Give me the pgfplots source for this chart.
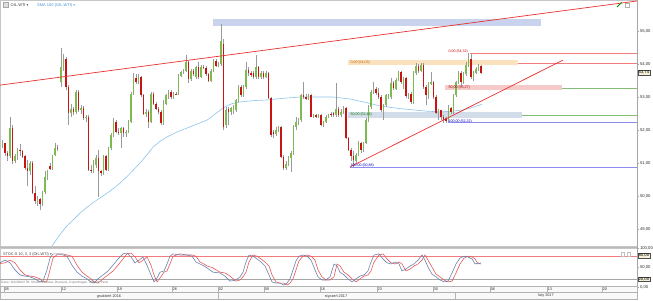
\documentclass[border=0pt]{standalone}
\usepackage{pgfplots}
\pgfplotsset{compat=1.18}
\usepackage{pgfplotstable}
\usepackage{fontspec}
\setmainfont{Liberation Sans}
\newfontfamily\dejavu{DejaVu Sans}
\definecolor{cgreen}{HTML}{7DBB50}
\definecolor{cred}{HTML}{C81414}
\definecolor{wick}{HTML}{9A9A9A}
\definecolor{trend}{HTML}{E8302C}
\definecolor{fibred}{HTML}{F07C7C}
\definecolor{fibgreen}{HTML}{82BE76}
\definecolor{fibblue}{HTML}{8C8CF0}
\definecolor{sma}{HTML}{8EC4EC}
\definecolor{smatext}{HTML}{4A90D9}
\definecolor{bandblue}{HTML}{C9D3EE}
\definecolor{bandorange}{HTML}{FBE2BF}
\definecolor{bandsteel}{HTML}{D3DDEA}
\definecolor{bandred}{HTML}{F7CACA}
\definecolor{stk}{HTML}{6A84B0}
\definecolor{std}{HTML}{E65A5A}
\definecolor{boxfill}{HTML}{F6F1D8}

\pgfplotstableread{
x o h l c
2.5 51.50 51.70 51.45 51.62
5 51.60 51.62 51.20 51.30
7.5 51.30 51.35 51.05 51.20
10 51.20 52.38 51.15 52.05
12.5 52.05 52.15 50.98 51.05
15 51.05 51.28 51.00 51.20
17.5 51.20 51.45 51.10 51.40
20 51.40 51.58 51.22 51.35
22.5 51.35 51.40 51.15 51.18
25 51.20 51.25 50.80 50.85
27.5 50.85 51.10 50.30 50.75
30 50.75 51.05 50.65 51.00
32.5 51.00 51.05 50.05 50.10
35 50.10 50.30 49.75 49.85
37.5 49.85 50.00 49.70 49.90
40 49.90 49.95 49.58 49.75
42.5 49.75 50.15 49.70 50.12
45 50.12 50.75 50.05 50.58
47.5 50.58 50.80 50.50 50.75
50 50.92 51.00 50.78 50.82
52.5 50.82 51.25 50.80 51.24
55 51.24 51.62 51.20 51.45
57.5 51.45 51.55 51.35 51.42
61 53.45 54.48 53.30 53.90
63.5 53.90 54.30 53.80 54.15
66 54.15 54.20 53.20 53.30
68.5 53.30 53.35 52.15 52.52
71 52.52 52.80 52.40 52.65
73.5 52.65 52.70 52.45 52.55
76 52.55 53.20 52.50 53.15
78.5 53.15 53.20 52.55 52.60
81 52.60 52.75 52.50 52.68
83.5 52.68 52.72 52.30 52.36
86 52.36 52.45 52.25 52.40
88.5 52.40 52.45 50.75 50.80
91 50.80 50.95 50.70 50.75
93.5 50.75 51.10 50.70 50.95
96 50.95 51.25 50.85 51.15
98.5 51.15 51.40 49.97 50.75
101 50.75 50.80 50.60 50.70
103.5 50.70 51.25 50.65 51.20
106 51.20 51.25 50.75 50.80
108.5 50.80 51.50 50.75 51.45
111 51.45 51.90 51.40 51.85
113.5 51.85 52.35 51.80 52.25
116 52.25 52.30 51.90 51.95
118.5 51.95 52.05 51.85 51.90
121 51.90 52.10 51.45 52.05
123.5 52.05 52.10 51.80 51.90
126 51.90 52.00 51.80 51.95
128.5 51.95 52.30 51.90 52.25
131 52.25 53.15 52.20 53.10
133.5 53.10 53.73 53.05 53.58
136 53.58 53.70 53.40 53.45
138.5 53.45 53.70 53.40 53.62
141 53.62 53.65 53.00 53.05
143.5 53.05 53.10 52.45 52.50
146 52.50 52.65 52.40 52.55
148.5 52.55 52.60 52.06 52.25
151 52.25 53.15 52.20 53.10
153.5 53.10 53.15 52.75 52.80
156 52.80 52.85 52.60 52.65
158.5 52.65 52.70 52.50 52.55
161 52.55 52.60 52.15 52.20
163.5 52.20 52.90 52.15 52.80
166 52.80 53.10 52.75 53.05
168.5 53.05 53.20 52.95 53.10
171 53.15 53.20 52.95 53.00
173.5 53.00 53.15 52.95 53.10
176 53.10 53.15 53.05 53.08
178.5 53.10 53.70 53.05 53.65
181 53.65 53.80 53.60 53.75
183.5 53.75 53.85 53.70 53.80
186 53.80 54.28 53.75 54.05
188.5 54.05 54.10 53.42 53.55
191 53.55 53.85 53.50 53.80
193.5 53.80 53.85 53.65 53.70
196 53.62 53.95 53.55 53.90
198.5 53.90 54.05 53.55 53.62
201 53.62 53.98 53.58 53.92
203.5 53.92 53.98 53.85 53.88
206 53.88 53.95 53.65 53.70
208.5 53.70 53.72 53.45 53.50
211 53.50 53.85 53.45 53.80
213.5 53.80 54.15 53.75 54.10
216 54.10 54.15 53.90 53.95
218.5 53.95 54.05 53.90 54.00
221 54.00 55.20 53.95 54.70
223.5 54.60 54.75 52.00 52.10
226 52.15 52.70 52.05 52.60
228.5 52.65 52.70 52.15 52.55
231 52.55 52.70 52.45 52.67
233.5 52.60 52.75 52.50 52.70
236 52.60 52.95 52.55 52.91
238.5 52.91 53.35 52.85 53.30
241 53.30 53.35 53.00 53.06
243.5 53.06 53.35 53.00 53.30
246 53.30 54.06 53.25 53.82
248.5 53.82 53.90 53.65 53.73
251 53.73 53.80 53.62 53.67
253.5 53.73 53.78 53.55 53.60
256 53.60 54.27 53.55 53.90
258.5 53.90 53.95 53.55 53.60
261 53.60 53.78 53.55 53.73
263.5 53.73 53.78 53.55 53.60
266 53.60 53.78 53.58 53.73
268.5 53.73 53.76 52.95 52.97
271 52.97 53.00 51.80 51.85
273.5 51.95 52.00 51.76 51.88
276 51.88 52.10 51.82 52.00
278.5 52.00 52.12 51.95 52.09
281 52.09 52.12 51.15 51.18
283.5 51.18 51.25 50.80 50.85
286 50.85 51.05 50.80 50.98
288.5 50.98 51.20 50.90 51.15
291 51.15 51.35 50.73 51.30
293.5 51.30 52.15 51.25 52.10
296 52.10 52.40 52.00 52.25
298.5 52.25 52.35 52.15 52.30
301 52.30 53.10 52.25 53.06
303.5 53.06 53.45 52.95 53.00
306 53.00 53.08 52.90 52.95
308.5 52.95 53.10 52.90 53.05
311 53.05 53.10 52.38 52.40
313.5 52.40 52.50 52.35 52.45
316 52.45 52.50 52.35 52.38
318.5 52.38 52.48 52.35 52.45
321 52.45 52.48 52.12 52.15
323.5 52.15 52.28 52.10 52.25
326 52.25 52.45 52.20 52.40
328.5 52.40 52.50 52.35 52.48
331 52.50 52.55 52.40 52.45
333.5 52.52 52.55 52.40 52.45
336 52.45 53.42 52.40 52.65
338.5 52.65 52.70 52.40 52.45
341 52.45 52.65 52.40 52.55
343.5 52.55 52.72 52.50 52.67
346 52.67 52.70 51.72 51.76
348.5 51.76 51.80 51.35 51.40
351 51.40 51.45 51.05 51.20
353.5 51.20 51.35 50.88 51.10
356 51.05 51.30 51.00 51.25
358.5 51.25 51.68 51.20 51.62
361 51.62 51.65 51.30 51.38
363.5 51.38 51.65 51.32 51.62
366 51.62 52.35 51.58 52.30
368.5 52.30 52.75 52.25 52.70
371 52.70 53.20 52.65 53.15
373.5 53.15 53.45 53.10 53.25
376 53.25 53.30 53.05 53.12
378.5 53.12 53.27 52.95 53.00
381 53.00 53.05 52.55 52.62
383.5 52.62 52.80 52.30 52.75
386 52.75 53.10 52.70 53.06
388.5 53.00 53.10 52.95 53.05
391 53.00 53.58 52.95 53.42
393.5 53.42 53.48 53.20 53.27
396 53.25 53.58 53.20 53.52
398.5 53.52 53.80 53.48 53.76
401 53.76 53.80 53.40 53.45
403.5 53.40 53.62 53.25 53.58
406 53.58 53.62 52.98 53.02
408.5 53.02 53.12 52.95 53.08
411 53.10 53.15 52.80 52.85
413.5 52.85 53.80 52.80 53.73
416 53.73 54.03 53.68 53.95
418.5 53.95 54.00 53.72 53.78
421 53.78 54.03 53.75 53.97
423.5 53.97 54.03 53.25 53.30
426 53.30 53.35 52.76 53.05
428.5 53.05 53.45 52.95 53.40
431 53.40 53.76 53.35 53.45
433.5 53.45 53.50 52.95 53.00
436 53.00 53.05 52.48 52.52
438.5 52.52 52.65 52.30 52.60
441 52.60 52.62 52.30 52.40
443.5 52.40 52.45 52.22 52.30
446 52.35 52.40 52.22 52.28
448.5 52.30 52.75 52.25 52.67
451 52.67 52.70 52.50 52.55
453.5 52.55 53.10 52.50 53.06
456 53.06 53.50 53.00 53.45
458.5 53.45 53.80 53.40 53.73
461 53.73 53.78 53.30 53.45
463.5 53.45 53.75 53.40 53.70
466 53.70 54.05 53.65 53.97
468.5 53.97 54.32 53.90 54.15
471 54.15 54.30 53.55 53.60
473.5 53.60 53.80 53.50 53.73
476 53.73 53.90 53.70 53.85
478.5 53.85 54.00 53.80 53.95
481 53.95 53.98 53.70 53.74
}\candles

\pgfplotstableread{
x k d
0 62 60
5 69 62
10 62 69
15 44 62
20 31 44
25 28 31
30 26 28
35 21 26
40 13 21
43 15 13
47 44 15
50 74 44
53 85 74
58 85 85
63 82 85
67 79 82
72 56 79
77 38 56
82 28 38
87 21 28
91 13 21
94 10 13
98 21 10
103 31 21
108 41 31
113 56 41
118 72 56
123 85 72
127 87 85
131 77 87
135 62 77
139 69 62
143 77 69
147 56 77
151 31 56
154 13 31
157 23 13
160 38 23
164 41 38
167 59 41
170 79 59
173 85 79
180 82 85
187 82 82
192 79 82
196 64 79
200 59 64
204 54 59
207 49 54
213 38 49
220 36 38
225 28 36
230 15 28
236 18 15
240 26 18
243 38 26
246 64 38
249 82 64
253 79 82
257 72 79
261 64 72
265 54 64
269 31 54
272 13 31
276 10 13
280 10 10
284 5 10
287 10 5
290 21 10
293 44 21
296 67 44
299 79 67
303 82 79
307 79 82
311 69 79
315 44 69
318 26 44
322 18 26
326 18 18
330 26 18
334 59 26
337 54 59
340 38 54
344 31 38
348 21 31
352 13 21
356 21 13
360 28 21
364 31 28
368 41 31
371 64 41
374 82 64
379 85 82
383 72 85
387 62 72
391 59 62
395 64 59
399 59 64
402 41 59
406 46 41
410 54 46
414 59 54
418 69 59
422 82 69
425 69 82
428 51 69
432 33 51
436 26 33
440 18 26
444 13 18
448 15 13
452 36 15
456 59 36
460 74 59
464 79 74
468 77 79
472 72 77
475 59 72
478 62 59
481 59 62
}\stoch

\pgfplotsset{
  candlebar/.style={draw=none, mark=none, forget plot,
    error bars/.cd, y dir=minus, y explicit, error mark=none,
    error bar style={draw=#1, line width=1.7pt}},
  wickbar/.style={draw=none, mark=none, forget plot,
    error bars/.cd, y dir=minus, y explicit, error mark=none,
    error bar style={draw=wick, line width=0.45pt}},
}
\tikzset{tinylab/.style={font=\fontsize{3.6}{4}\selectfont, inner sep=0.3pt}}

\begin{document}
\begin{tikzpicture}[x=1pt,y=1pt]
\path[use as bounding box] (0,0) rectangle (653,300);
\fill[white] (0,0) rectangle (653,300);

% ---------------- price panel ----------------
\begin{axis}[
  at={(0pt,54pt)}, anchor=south west,
  scale only axis, width=637pt, height=246pt,
  xmin=0, xmax=637, ymin=48.485, ymax=55.94,
  clip mode=individual,
  axis line style={draw=gray!45},
  xtick=\empty,
  ytick={49,50,...,55},
  minor ytick={48.5,49.5,...,55.5},
  ytick pos=right,
  tick align=outside,
  major tick length=2pt, minor tick length=1.2pt,
  tick style={gray!70},
  yticklabel style={font=\fontsize{4.2}{5}\selectfont, text=black!80, inner sep=0.8pt},
  yticklabel={\pgfmathprintnumber[fixed, fixed zerofill, precision=2, use comma, assume math mode=true]{\tick}},
]
% zones
\addplot[draw=none, fill=bandblue, forget plot] coordinates {(213,55.15) (541,55.15) (541,55.36) (213,55.36)};
\addplot[draw=none, fill=bandorange, forget plot] coordinates {(348,53.97) (518,53.97) (518,54.12) (348,54.12)};
\addplot[draw=none, fill=bandsteel, forget plot] coordinates {(348,52.36) (522,52.36) (522,52.55) (348,52.55)};
\addplot[draw=none, fill=bandred, forget plot] coordinates {(445,53.21) (562,53.21) (562,53.36) (445,53.36)};

% SMA 100
\addplot[sma, line width=0.6pt, mark=none] coordinates {
(52,48.49) (57,48.70) (62,48.91) (67,49.10) (73,49.27) (80,49.48) (87,49.66)
(93,49.80) (100,49.94) (110,50.15) (120,50.39) (130,50.68) (140,51.00)
(147,51.25) (153,51.48) (160,51.66) (167,51.79) (177,51.94) (187,52.06)
(197,52.18) (207,52.30) (215,52.48) (223,52.67) (232,52.80) (240,52.85)
(253,52.89) (267,52.91) (283,52.96) (300,53.00) (317,53.00) (333,53.00)
(350,52.94) (365,52.84) (380,52.73) (397,52.66) (413,52.61) (427,52.57)
(440,52.55) (452,52.57) (463,52.61) (472,52.68) (482,52.78)};

% wicks
\addplot[wickbar] table[x=x, y=h, y error minus expr={\thisrow{h}-\thisrow{l}}] {\candles};
% bodies: rising
\addplot[restrict expr to domain={\thisrow{c}-\thisrow{o}}{0:1000}, candlebar=cgreen]
  table[x=x, y=c, y error minus expr={max(\thisrow{c}-\thisrow{o},0.03)}] {\candles};
% bodies: falling
\addplot[restrict expr to domain={\thisrow{o}-\thisrow{c}}{0.0001:1000}, candlebar=cred]
  table[x=x, y=o, y error minus expr={max(\thisrow{o}-\thisrow{c},0.03)}] {\candles};

% Fibonacci levels
\addplot[fibred, line width=0.6pt, forget plot] coordinates {(470,54.32) (637,54.32)};
\addplot[fibred, line width=0.6pt, forget plot] coordinates {(518,54.03) (637,54.03)};
\addplot[fibgreen, line width=0.6pt, forget plot] coordinates {(562,53.27) (637,53.27)};
\addplot[fibgreen, line width=0.6pt, forget plot] coordinates {(522,52.455) (637,52.455)};
\addplot[fibblue, line width=0.6pt, forget plot] coordinates {(448,52.22) (637,52.22)};
\addplot[fibblue, line width=0.6pt, forget plot] coordinates {(350,50.88) (637,50.88)};

% trend lines
\addplot[trend, line width=0.7pt, forget plot] coordinates {(0,53.36) (637,55.91)};
\addplot[trend, line width=0.7pt, forget plot] coordinates {(350,50.88) (563,54.12)};

% level labels
\node[tinylab, anchor=west, text=red!80!black] at (axis cs:448,54.38) {0,00 (54,32)};
\node[tinylab, anchor=west, text=orange!75!black] at (axis cs:350,54.05) {0,00 (54,03)};
\node[tinylab, anchor=west, text=red!60!black] at (axis cs:448,53.29) {50,00 (53,27)};
\node[tinylab, anchor=west, text=green!45!black] at (axis cs:350,52.47) {50,00 (52,46)};
\node[tinylab, anchor=west, text=blue!75!black] at (axis cs:448,52.27) {100,00 (52,22)};
\node[tinylab, anchor=west, text=blue!75!black] at (axis cs:350,50.93) {100,00 (50,88)};

% last price
\node[draw=black!70, fill=boxfill, inner sep=0.6pt, anchor=west,
      font=\fontsize{4.2}{5}\selectfont] at (axis cs:637.8,53.74) {53,74};
\end{axis}

% ---------------- stochastic panel ----------------
\begin{axis}[
  at={(0pt,13pt)}, anchor=south west,
  scale only axis, width=637pt, height=39pt,
  xmin=0, xmax=637, ymin=0, ymax=100,
  clip mode=individual,
  axis line style={draw=gray!45},
  xtick=\empty,
  ytick={0,50,100},
  ytick pos=right,
  tick align=outside, major tick length=2pt,
  tick style={gray!70},
  yticklabel style={font=\fontsize{4.2}{5}\selectfont, text=black!80, inner sep=0.8pt},
  yticklabel={\pgfmathprintnumber[fixed, fixed zerofill, precision=2, use comma, assume math mode=true]{\tick}},
]
\addplot[fibred, line width=0.6pt, forget plot] coordinates {(0,80) (637,80)};
\addplot[gray!70, line width=0.6pt, forget plot] coordinates {(0,20) (637,20)};
\addplot[std, line width=0.6pt, mark=none] table[x=x, y=d] {\stoch};
\addplot[stk, line width=0.6pt, mark=none] table[x=x, y=k] {\stoch};
\node[draw=black!70, fill=boxfill, inner sep=0.6pt, anchor=west,
      font=\fontsize{4.2}{5}\selectfont] at (axis cs:637.8,80) {80,00};
\node[draw=black!70, fill=boxfill, inner sep=0.6pt, anchor=west,
      font=\fontsize{4.2}{5}\selectfont] at (axis cs:637.8,20) {20,00};
\end{axis}

% ---------------- frame decorations ----------------
\fill[gray!55] (0,51.7) rectangle (637,53.3);
\draw[gray!70, line width=0.5pt] (637,0) -- (637,300);

% header
\draw[gray!70, fill=gray!25, line width=0.3pt] (3,292.5) rectangle (8,297.5);
\node[anchor=west, inner sep=0, font=\fontsize{4}{5}\selectfont, text=black!75] at (10.5,295)
  {OIL.WTI {\dejavu\fontsize{3.5}{4}\selectfont ▾}};
\node[anchor=west, inner sep=0, font=\fontsize{4}{5}\selectfont, text=smatext] at (37,295)
  {SMA 100 (OIL.WTI) {\dejavu\fontsize{3.5}{4}\selectfont ▾}};
\draw[green!55!black, line width=0.8pt] (617,293) -- (621.5,297.5);
\draw[gray!60, line width=0.3pt] (625.5,293) rectangle (629.5,297);

% stochastic header
\node[anchor=west, inner sep=0, font=\fontsize{3.8}{4.5}\selectfont, text=black!75] at (3,45.5)
  {STOC-S 10, 3, 3 (OIL.WTI) {\dejavu\fontsize{3.3}{4}\selectfont ▾}};
\draw[gray!50, line width=0.3pt] (621,44) rectangle (624.5,47.5);
\draw[gray!50, line width=0.3pt] (627,44) rectangle (630.5,47.5);
\node[anchor=west, inner sep=0, font=\fontsize{3.2}{4}\selectfont, text=gray] at (1,17.3)
  {Dane: OANDA/XTB. Strefa czasowa: Brussels, Copenhagen, Madrid, Paris};

% date axis
\fill[gray!5] (0,0.5) rectangle (637,14);
\draw[gray!60, line width=0.4pt] (0,0.5) rectangle (637,14);
\draw[gray!60, line width=0.4pt] (0,7.5) -- (637,7.5);
\foreach \xx/\lab in {4/05, 61/12, 117/19, 172/26, 218/02, 264/09, 320/16, 377/23, 433/30, 490/06, 547/13, 602/20}{
  \draw[gray!60, line width=0.4pt] (\xx,7.5) -- (\xx,14);
  \node[anchor=west, inner sep=0.6pt, font=\fontsize{3.8}{4}\selectfont, text=black!80] at (\xx,10.8) {\lab};
}
\draw[gray!60, line width=0.4pt] (218,0.5) -- (218,7.5);
\draw[gray!60, line width=0.4pt] (455,0.5) -- (455,7.5);
\node[inner sep=0, font=\fontsize{3.8}{4}\selectfont, text=black!80] at (109,4) {grudzień 2016};
\node[inner sep=0, font=\fontsize{3.8}{4}\selectfont, text=black!80] at (336,4) {styczeń 2017};
\node[inner sep=0, font=\fontsize{3.8}{4}\selectfont, text=black!80] at (546,4) {luty 2017};
\end{tikzpicture}
\end{document}
